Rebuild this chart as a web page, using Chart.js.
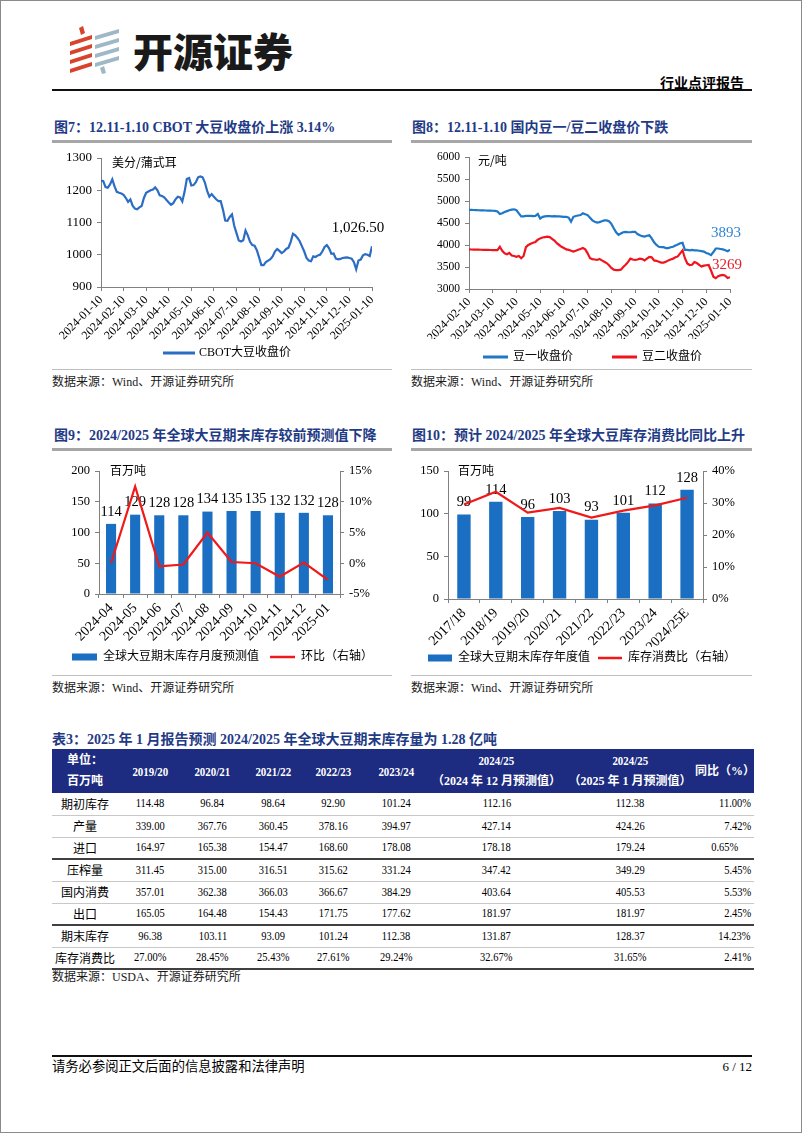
<!DOCTYPE html>
<html lang="zh-CN"><head><meta charset="utf-8">
<title>开源证券 行业点评报告</title>
<script src="https://cdn.jsdelivr.net/npm/chart.js@4.4.1/dist/chart.umd.min.js"></script>
<style>
*{box-sizing:border-box;}
html,body{margin:0;padding:0;background:#fff;}
#page{position:absolute;left:0;top:0;width:802px;height:1133px;overflow:hidden;font-family:'Liberation Serif','Noto Sans CJK SC',serif;color:#000;background:#fff;}
#frame{position:absolute;left:0;top:0;width:802px;height:1133px;border:1px solid #8a8a8a;pointer-events:none;}
.t{position:absolute;white-space:nowrap;line-height:1;}
.ft{font-size:14px;font-weight:bold;color:#1f3b86;}
.bar3{position:absolute;height:3px;background:#a6a6a6;}
.hair{position:absolute;height:1px;background:#bfbfbf;}
.src{font-size:12px;color:#1a1a1a;}
canvas{position:absolute;}
table{position:absolute;border-collapse:collapse;table-layout:fixed;font-size:12.5px;}
td,th{padding:0;text-align:center;vertical-align:middle;white-space:nowrap;overflow:visible;}
th{background:#1d2b80;color:#fff;font-weight:bold;height:44px;line-height:21px;font-size:13px;}
tbody td{height:22px;border-bottom:1px solid #c8c8c8;}
tbody tr.thick td{border-bottom:2px solid #404040;}
.n{display:inline-block;transform:scaleX(0.84);}
.r{text-align:right;padding-right:3px;}
.r .n{transform-origin:right center;}
.lab{font-size:12px;}
</style></head>
<body>
<div id="page">
  <svg class="t" style="left:62px;top:24px" width="62" height="50" viewBox="0 0 62 50">
    <g fill="#d8432b">
      <polygon points="8,18 30,11 30,15 8,22"/>
      <polygon points="8,27 30,20 30,24 8,31"/>
      <polygon points="8,36 30,29 30,33 8,40"/>
      <polygon points="8,45 30,38 30,42 8,49"/>
      <polygon points="17,4 21,2 23,9 19,11"/>
    </g>
    <g fill="#9fb8c6">
      <polygon points="33,12 57,5 57,9 33,16"/>
      <polygon points="33,21 57,14 57,18 33,25"/>
      <polygon points="33,30 57,23 57,27 33,34"/>
      <polygon points="33,39 57,32 57,36 33,43"/>
      <polygon points="38,44 42,42 44,49 40,50"/>
    </g>
  </svg>
  <div class="t" style="left:133px;top:30px;font-family:'Noto Sans CJK SC';font-weight:900;font-size:40px;color:#1a1a1a;">开源证券</div>
  <div class="t" style="right:58px;top:75px;font-size:14px;font-weight:bold;font-family:'Noto Sans CJK SC';">行业点评报告</div>
  <div class="t" style="left:52px;top:89px;width:700px;height:1.5px;background:#111;"></div>

  <div class="t ft" style="left:54px;top:121px;">图7：12.11-1.10 CBOT 大豆收盘价上涨 3.14%</div>
  <div class="t ft" style="left:412px;top:121px;">图8：12.11-1.10 国内豆一/豆二收盘价下跌</div>
  <div class="bar3" style="left:52px;top:140px;width:340px;"></div>
  <div class="bar3" style="left:411px;top:140px;width:341px;"></div>
  <div class="hair" style="left:52px;top:369px;width:340px;"></div>
  <div class="hair" style="left:411px;top:369px;width:341px;"></div>
  <div class="t src" style="left:52px;top:376px;">数据来源：Wind、开源证券研究所</div>
  <div class="t src" style="left:411px;top:376px;">数据来源：Wind、开源证券研究所</div>

  <div class="t ft" style="left:54px;top:429px;">图9：2024/2025 年全球大豆期末库存较前预测值下降</div>
  <div class="t ft" style="left:412px;top:429px;">图10：预计 2024/2025 年全球大豆库存消费比同比上升</div>
  <div class="bar3" style="left:52px;top:448px;width:340px;"></div>
  <div class="bar3" style="left:411px;top:448px;width:341px;"></div>
  <div class="hair" style="left:52px;top:675px;width:340px;"></div>
  <div class="hair" style="left:411px;top:675px;width:341px;"></div>
  <div class="t src" style="left:52px;top:682px;">数据来源：Wind、开源证券研究所</div>
  <div class="t src" style="left:411px;top:682px;">数据来源：Wind、开源证券研究所</div>

  <div class="t ft" style="left:52px;top:733px;">表3：2025 年 1 月报告预测 2024/2025 年全球大豆期末库存量为 1.28 亿吨</div>
  <table id="tbl" style="left:52px;top:749px;width:702px;">
    <colgroup>
      <col style="width:66px"><col style="width:64px"><col style="width:61px"><col style="width:60px"><col style="width:61px"><col style="width:64px"><col style="width:137px"><col style="width:130px"><col style="width:59px">
    </colgroup>
    <thead><tr id="thr"></tr></thead>
    <tbody id="tbb"></tbody>
  </table>
  <div class="t src" style="left:52px;top:971px;">数据来源：USDA、开源证券研究所</div>

  <div class="t" style="left:52px;top:1055px;width:700px;height:1.5px;background:#111;"></div>
  <div class="t" style="left:52px;top:1060px;font-size:13.3px;">请务必参阅正文后面的信息披露和法律声明</div>
  <div class="t" style="right:50px;top:1060px;font-size:13px;">6 / 12</div>
  <div id="frame"></div>
</div>
<script>
// ================= DATA =================
// Fig.7 CBOT soybean close (US cents / bushel), 10 readings per month, 2024-01-10 .. 2025-01-10
const cbotTickLabels = ['2024-01-10','2024-02-10','2024-03-10','2024-04-10','2024-05-10','2024-06-10','2024-07-10','2024-08-10','2024-09-10','2024-10-10','2024-11-10','2024-12-10','2025-01-10'];
const cbotClose = [
 1230,1228,1210,1208,1218,1234,1212,1195,1192,1190,
 1186,1176,1164,1172,1152,1143,1141,1147,1151,1176,
 1192,1196,1200,1202,1209,1200,1184,1182,1178,1170,
 1162,1155,1160,1172,1180,1178,1165,1195,1235,1238,
 1215,1216,1225,1240,1243,1240,1224,1198,1180,1188,
 1180,1172,1166,1166,1140,1106,1105,1117,1125,1090,
 1067,1044,1041,1045,1075,1060,1040,1030,1028,1014,
 992,968,968,977,982,986,995,1010,1018,1012,
 1005,1010,1018,1022,1040,1065,1060,1052,1042,1026,
 1010,990,982,980,995,993,998,1000,1010,1024,
 1030,1020,1003,1004,988,986,987,990,991,992,
 990,988,977,955,982,985,998,1002,1000,996,
 1026.5];
const cbotPerMonth = 10;

// Fig.8 DCE No.1 / No.2 soybean close (yuan / t), 10 readings per month, 2024-02-10 .. 2025-01-10
const dceTickLabels = ['2024-02-10','2024-03-10','2024-04-10','2024-05-10','2024-06-10','2024-07-10','2024-08-10','2024-09-10','2024-10-10','2024-11-10','2024-12-10','2025-01-10'];
const soy1Close = [
 4800,4798,4796,4793,4790,4788,4786,4784,4782,4780,
 4778,4776,4760,4705,4720,4750,4770,4790,4805,4811,
 4790,4720,4650,4650,4660,4660,4660,4655,4660,4705,
 4600,4640,4650,4655,4655,4650,4655,4650,4650,4645,
 4640,4640,4620,4530,4640,4660,4670,4680,4720,4700,
 4680,4620,4560,4530,4510,4520,4540,4560,4560,4540,
 4480,4380,4290,4230,4260,4290,4300,4290,4290,4300,
 4300,4250,4220,4200,4190,4210,4220,4150,4060,4000,
 3960,3950,3950,3930,3930,3950,3960,3990,4010,4040,
 4050,3890,3890,3880,3890,3880,3880,3870,3860,3850,
 3820,3800,3770,3840,3920,3920,3910,3900,3880,3860,
 3893];
const soy2Close = [
 3900,3898,3897,3895,3893,3892,3890,3889,3888,3886,
 3885,3884,3883,3960,3870,3810,3790,3820,3760,3750,
 3730,3750,3700,3750,3950,4000,4030,4050,4070,4120,
 4150,4170,4180,4190,4180,4140,4100,4040,4000,3960,
 3930,3900,3890,3870,3850,3870,3890,3910,3930,3900,
 3810,3700,3680,3670,3660,3680,3650,3620,3590,3540,
 3480,3440,3430,3430,3440,3500,3550,3610,3690,3670,
 3660,3670,3690,3680,3650,3690,3730,3720,3650,3640,
 3620,3600,3600,3620,3650,3670,3690,3720,3740,3810,
 3880,3700,3580,3545,3550,3610,3590,3550,3510,3530,
 3540,3545,3420,3280,3245,3290,3310,3320,3300,3250,
 3269];
const dcePerMonth = 10;

// Fig.9 monthly forecasts of global soybean ending stocks
const stockMonths = ['2024-04','2024-05','2024-06','2024-07','2024-08','2024-09','2024-10','2024-11','2024-12','2025-01'];
const stockForecast = [114,129,128,128,134,135,135,132,132,128];
const stockMoM = [0.0,12.5,-0.5,-0.2,5.0,0.2,0.0,-2.2,0.1,-2.7];

// Fig.10 annual ending stocks and stock-to-use ratio
const seasons = ['2017/18','2018/19','2019/20','2020/21','2021/22','2022/23','2023/24','2024/25E'];
const endingStocks = [99,114,96,103,93,101,112,128];
const stockUseRatio = [29.5,33.5,27.0,28.45,25.43,27.61,29.24,31.65];

// Table 3
const tableYearHeads = ['2019/20','2020/21','2021/22','2022/23','2023/24'];
const tableForecastHeads = [['2024/25','（2024 年 12 月预测值）'],['2024/25','（2025 年 1 月预测值）']];
const tableRowNames = ['期初库存','产量','进口','压榨量','国内消费','出口','期末库存','库存消费比'];
const tableValues = [
 ['114.48','96.84','98.64','92.90','101.24','112.16','112.38','11.00%'],
 ['339.00','367.76','360.45','378.16','394.97','427.14','424.26','7.42%'],
 ['164.97','165.38','154.47','168.60','178.08','178.18','179.24','0.65%'],
 ['311.45','315.00','316.51','315.62','331.24','347.42','349.29','5.45%'],
 ['357.01','362.38','366.03','366.67','384.29','403.64','405.53','5.53%'],
 ['165.05','164.48','154.43','171.75','177.62','181.97','181.97','2.45%'],
 ['96.38','103.11','93.09','101.24','112.38','131.87','128.37','14.23%'],
 ['27.00%','28.45%','25.43%','27.61%','29.24%','32.67%','31.65%','2.41%']];
const tableThickAfter = [2,5,7];

// ================= TABLE =================
(function(){
  const thr = document.getElementById('thr');
  let h = '<th class="lab"><div>单位：</div><div>百万吨</div></th>';
  tableYearHeads.forEach(y=>{ h += '<th><span class="n">'+y+'</span></th>'; });
  tableForecastHeads.forEach(f=>{ h += '<th><div><span class="n">'+f[0]+'</span></div><div style="font-size:12px">'+f[1]+'</div></th>'; });
  h += '<th class="r" style="font-size:12px;padding-right:2px">同比（%）</th>';
  thr.innerHTML = h;
  const tbb = document.getElementById('tbb');
  let b = '';
  tableRowNames.forEach((name,i)=>{
    b += '<tr'+(tableThickAfter.includes(i)?' class="thick"':'')+'><td class="lab">'+name+'</td>';
    tableValues[i].forEach((v,j)=>{
      if (j === tableValues[i].length-1) {
        const extra = (name==='进口') ? ' style="padding-right:16px"' : '';
        b += '<td class="r"'+extra+'><span class="n">'+v+'</span></td>';
      } else {
        b += '<td><span class="n">'+v+'</span></td>';
      }
    });
    b += '</tr>';
  });
  tbb.innerHTML = b;
})();

// ================= CHARTS =================
const FONT = "'Liberation Serif','Noto Sans CJK SC',serif";
Chart.defaults.font.family = FONT;
Chart.defaults.color = '#000';
const AXIS = '#808080';

// legend drawn on the canvas from each dataset's label and colours
const sideLegend = { id:'sideLegend', afterDraw(chart, args, o){
  const ctx = chart.ctx; ctx.save();
  ctx.font = "12px " + FONT; ctx.textBaseline = 'middle'; ctx.textAlign = 'left';
  chart.data.datasets.forEach((ds, i)=>{
    const x = o.xs[i];
    const isLine = (ds.type || chart.config.type) === 'line';
    if (isLine) {
      ctx.strokeStyle = ds.borderColor; ctx.lineWidth = o.lineWidth; ctx.lineCap = 'butt';
      ctx.beginPath(); ctx.moveTo(x, o.y); ctx.lineTo(x + o.w, o.y); ctx.stroke();
    } else {
      ctx.fillStyle = ds.backgroundColor; ctx.fillRect(x, o.y - o.h/2, o.w, o.h);
    }
    ctx.fillStyle = '#000';
    ctx.fillText(ds.label, x + o.w + o.gap, o.y);
  });
  ctx.restore();
}};
const unitLabel = { id:'unitLabel', afterDraw(chart, args, o){
  const ctx = chart.ctx; ctx.save();
  ctx.font = "12px 'Noto Sans CJK SC'"; ctx.fillStyle = '#000'; ctx.textBaseline = 'middle'; ctx.textAlign = 'left';
  ctx.fillText(o.text, chart.chartArea.left + o.dx, chart.chartArea.top + o.dy);
  ctx.restore();
}};
const endLabels = { id:'endLabels', afterDatasetsDraw(chart, args, o){
  const ctx = chart.ctx; ctx.save();
  ctx.font = "15px 'Liberation Serif'"; ctx.textAlign = 'center'; ctx.textBaseline = 'middle';
  o.items.forEach(it=>{
    const meta = chart.getDatasetMeta(it.ds);
    const pt = meta.data[meta.data.length-1];
    const ds = chart.data.datasets[it.ds];
    const v = ds.data[ds.data.length-1].y;
    ctx.fillStyle = it.color;
    ctx.fillText(it.fmt(v), pt.x + it.dx, pt.y + it.dy);
  });
  ctx.restore();
}};
const barLabels = { id:'barLabels', afterDatasetDraw(chart, args, o){
  if (args.index !== o.ds) return;
  const ctx = chart.ctx; ctx.save();
  ctx.font = "14.5px 'Liberation Serif'"; ctx.fillStyle = '#000'; ctx.textAlign = 'center'; ctx.textBaseline = 'middle';
  const ds = chart.data.datasets[o.ds];
  args.meta.data.forEach((bar,i)=>{ ctx.fillText(String(ds.data[i]), bar.x, bar.y - o.offset); });
  ctx.restore();
}};

function makeChart(box, config){
  const c = document.createElement('canvas');
  c.width = box.w; c.height = box.h;
  c.style.left = box.x+'px'; c.style.top = box.y+'px'; c.style.width = box.w+'px'; c.style.height = box.h+'px';
  document.getElementById('page').insertBefore(c, document.getElementById('frame'));
  config.options.responsive = false;
  config.options.animation = false;
  config.options.devicePixelRatio = 1;
  return new Chart(c, config);
}
function axisGrid(){ return {display:true, drawOnChartArea:false, drawTicks:true, tickLength:4, color:AXIS}; }
const plain = v => String(v);

// ---- Fig 7 ----
makeChart({x:52,y:145,w:340,h:223}, {
  type:'line',
  data:{ datasets:[{ label:'CBOT大豆收盘价', data: cbotClose.map((v,i)=>({x:i/cbotPerMonth, y:v})),
    borderColor:'#2b6cc4', backgroundColor:'#2b6cc4', borderWidth:2.2, pointRadius:0, tension:0 }] },
  options:{
    layout:{padding:{left:0,right:20,top:13,bottom:28}},
    scales:{
      x:{type:'linear', min:0, max:cbotTickLabels.length-1, afterFit:s=>{s.height=53;},
         ticks:{stepSize:1, autoSkip:false, maxRotation:45, minRotation:45, padding:2, font:{size:12}, color:'#000', callback:v=>cbotTickLabels[v]},
         grid:axisGrid(), border:{color:AXIS}},
      y:{min:900, max:1300, afterFit:s=>{s.width=49;},
         ticks:{stepSize:100, padding:5, font:{size:13}, color:'#000', callback:plain},
         grid:axisGrid(), border:{color:AXIS}}
    },
    plugins:{
      legend:{display:false},
      tooltip:{enabled:false},
      sideLegend:{xs:[111], y:208, w:32, h:3, lineWidth:3, gap:4},
      unitLabel:{text:'美分/蒲式耳', dx:11, dy:4},
      endLabels:{items:[{ds:0, dx:-14, dy:-18, color:'#000', fmt:v=>v.toLocaleString('en-US',{minimumFractionDigits:2, maximumFractionDigits:2})}]}
    }
  },
  plugins:[sideLegend, unitLabel, endLabels]
});

// ---- Fig 8 ----
makeChart({x:411,y:145,w:341,h:223}, {
  type:'line',
  data:{ datasets:[
    { label:'豆一收盘价', data: soy1Close.map((v,i)=>({x:i/dcePerMonth, y:v})), borderColor:'#1f77c8', backgroundColor:'#1f77c8', borderWidth:2.2, pointRadius:0, tension:0 },
    { label:'豆二收盘价', data: soy2Close.map((v,i)=>({x:i/dcePerMonth, y:v})), borderColor:'#f0141e', backgroundColor:'#f0141e', borderWidth:2.2, pointRadius:0, tension:0 }
  ]},
  options:{
    layout:{padding:{left:0,right:22,top:12,bottom:29}},
    scales:{
      x:{type:'linear', min:0, max:dceTickLabels.length-1, afterFit:s=>{s.height=50;},
         ticks:{stepSize:1, autoSkip:false, maxRotation:45, minRotation:45, padding:2, font:{size:12}, color:'#000', callback:v=>dceTickLabels[v]},
         grid:axisGrid(), border:{color:AXIS}},
      y:{min:3000, max:6000, afterFit:s=>{s.width=58;},
         ticks:{stepSize:500, padding:5, font:{size:11.5}, color:'#000', callback:plain},
         grid:axisGrid(), border:{color:AXIS}}
    },
    plugins:{
      legend:{display:false},
      tooltip:{enabled:false},
      sideLegend:{xs:[72,201], y:212, w:25, h:3, lineWidth:3, gap:5},
      unitLabel:{text:'元/吨', dx:9, dy:3},
      endLabels:{items:[
        {ds:0, dx:-4, dy:-17, color:'#2f86d4', fmt:plain},
        {ds:1, dx:-3, dy:-12, color:'#e8202a', fmt:plain}
      ]}
    }
  },
  plugins:[sideLegend, unitLabel, endLabels]
});

// ---- Fig 9 ----
makeChart({x:52,y:452,w:340,h:221}, {
  type:'bar',
  data:{ labels: stockMonths, datasets:[
    { type:'bar', label:'全球大豆期末库存月度预测值', data: stockForecast, backgroundColor:'#1a6fc2', borderColor:'#1a6fc2', borderWidth:0, barPercentage:0.42, categoryPercentage:1, yAxisID:'y', order:2 },
    { type:'line', label:'环比（右轴）', data: stockMoM, borderColor:'#f01818', backgroundColor:'#f01818', borderWidth:2.2, pointRadius:0, tension:0, yAxisID:'y2', order:1 }
  ]},
  options:{
    layout:{padding:{left:0,right:0,top:19,bottom:30}},
    scales:{
      x:{afterFit:s=>{s.height=49;}, ticks:{autoSkip:false, maxRotation:45, minRotation:45, padding:2, font:{size:14}, color:'#000'},
         grid:{display:true, drawOnChartArea:false, drawTicks:true, tickLength:4, color:AXIS, offset:true}, border:{color:AXIS}},
      y:{position:'left', min:0, max:200, afterFit:s=>{s.width=47;}, ticks:{stepSize:50, padding:5, font:{size:12.5}, color:'#000', callback:plain}, grid:axisGrid(), border:{color:AXIS}},
      y2:{position:'right', min:-5, max:15, afterFit:s=>{s.width=52;}, ticks:{stepSize:5, padding:5, font:{size:12.5}, color:'#000', callback:v=>v+'%'}, grid:axisGrid(), border:{color:AXIS}}
    },
    plugins:{
      legend:{display:false},
      tooltip:{enabled:false},
      sideLegend:{xs:[20,218], y:205, w:25, h:7, lineWidth:2.5, gap:6},
      unitLabel:{text:'百万吨', dx:11, dy:-1},
      barLabels:{ds:0, offset:12}
    }
  },
  plugins:[sideLegend, unitLabel, barLabels]
});

// ---- Fig 10 ----
makeChart({x:411,y:452,w:341,h:221}, {
  type:'bar',
  data:{ labels: seasons, datasets:[
    { type:'bar', label:'全球大豆期末库存年度值', data: endingStocks, backgroundColor:'#1a6fc2', borderColor:'#1a6fc2', borderWidth:0, barPercentage:0.42, categoryPercentage:1, yAxisID:'y', order:2 },
    { type:'line', label:'库存消费比（右轴）', data: stockUseRatio, borderColor:'#f01818', backgroundColor:'#f01818', borderWidth:2.2, pointRadius:0, tension:0, yAxisID:'y2', order:1 }
  ]},
  options:{
    layout:{padding:{left:0,right:0,top:19,bottom:26}},
    scales:{
      x:{afterFit:s=>{s.height=48;}, ticks:{autoSkip:false, maxRotation:45, minRotation:45, padding:2, font:{size:14}, color:'#000'},
         grid:{display:true, drawOnChartArea:false, drawTicks:true, tickLength:4, color:AXIS, offset:true}, border:{color:AXIS}},
      y:{position:'left', min:0, max:150, afterFit:s=>{s.width=37;}, ticks:{stepSize:50, padding:5, font:{size:12.5}, color:'#000', callback:plain}, grid:axisGrid(), border:{color:AXIS}},
      y2:{position:'right', min:0, max:40, afterFit:s=>{s.width=49;}, ticks:{stepSize:10, padding:5, font:{size:12.5}, color:'#000', callback:v=>v+'%'}, grid:axisGrid(), border:{color:AXIS}}
    },
    plugins:{
      legend:{display:false},
      tooltip:{enabled:false},
      sideLegend:{xs:[17,187], y:206, w:24, h:7, lineWidth:2.5, gap:6},
      unitLabel:{text:'百万吨', dx:10, dy:-1},
      barLabels:{ds:0, offset:12}
    }
  },
  plugins:[sideLegend, unitLabel, barLabels]
});
</script>
</body></html>
